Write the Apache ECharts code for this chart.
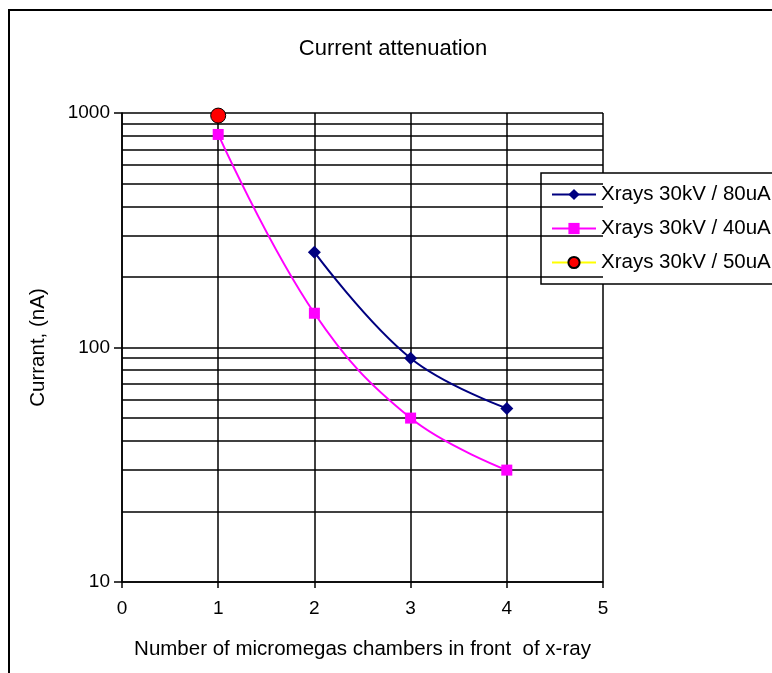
<!DOCTYPE html>
<html>
<head>
<meta charset="utf-8">
<script src="https://cdn.jsdelivr.net/npm/echarts@6/dist/echarts.min.js"></script>
<style>
html,body{margin:0;padding:0;background:#fff;}
#chart{width:772px;height:673px;}
</style>
</head>
<body>
<div id="chart"></div>
<script>
var chamberTicks = [0, 1, 2, 3, 4, 5];
var yTickLabels = [10, 100, 1000];
var minorGridValues = [20, 30, 40, 50, 60, 70, 80, 90, 200, 300, 400, 500, 600, 700, 800, 900];
var seriesNames = ['Xrays 30kV / 80uA', 'Xrays 30kV / 40uA', 'Xrays 30kV / 50uA'];
var x80 = [2, 3, 4];
var y80 = [255, 90, 55];
var x40 = [1, 2, 3, 4];
var y40 = [810, 140, 50, 30];
var x50 = [1];
var y50 = [975];

function pairs(xs, ys) { return xs.map(function (x, i) { return [x, ys[i]]; }); }

var FONT = 'Liberation Sans, Arial, sans-serif';
var chart = echarts.init(document.getElementById('chart'), null, {renderer: 'canvas'});
chart.setOption({
  animation: false,
  backgroundColor: '#ffffff',
  title: {
    text: 'Current attenuation',
    left: 388, top: 33, textAlign: 'center',
    textStyle: {fontFamily: FONT, fontSize: 22, fontWeight: 'normal', color: '#000'}
  },
  graphic: [{
    type: 'rect', shape: {x: 9, y: 10, width: 800, height: 700},
    style: {fill: 'none', stroke: '#000', lineWidth: 2}, silent: true, z: -1
  }],
  grid: {left: 122, top: 113, width: 481, height: 469, show: false},
  legend: {
    orient: 'vertical', left: 541, top: 173,
    data: seriesNames,
    itemWidth: 44, itemHeight: 14, itemGap: 13,
    padding: [11, 14, 11, 10],
    backgroundColor: '#fff', borderColor: '#000', borderWidth: 1.5,
    textStyle: {fontFamily: FONT, fontSize: 20.5, color: '#000'}
  },
  xAxis: {
    type: 'value', min: 0, max: 5, interval: 1,
    name: 'Number of micromegas chambers in front  of x-ray',
    nameLocation: 'middle', nameGap: 57,
    nameTextStyle: {fontFamily: FONT, fontSize: 20.5, color: '#000'},
    axisLine: {show: true, lineStyle: {color: '#000', width: 1.5}},
    axisTick: {show: true, length: 6, lineStyle: {color: '#000', width: 1.5}},
    axisLabel: {fontFamily: FONT, fontSize: 19, color: '#000', margin: 17,
      formatter: function (v) { return chamberTicks.indexOf(v) >= 0 ? String(v) : ''; }},
    splitLine: {show: true, lineStyle: {color: '#000', width: 1.5}}
  },
  yAxis: {
    type: 'log', logBase: 10, min: 10, max: 1000,
    name: 'Currant, (nA)', nameLocation: 'middle', nameGap: 73,
    nameTextStyle: {fontFamily: FONT, fontSize: 20.5, color: '#000'},
    axisLine: {show: true, lineStyle: {color: '#000', width: 1.5}},
    axisTick: {show: true, length: 8, lineStyle: {color: '#000', width: 1.5}},
    axisLabel: {fontFamily: FONT, fontSize: 19, color: '#000', margin: 12,
      formatter: function (v) { return yTickLabels.indexOf(Math.round(v)) >= 0 ? String(Math.round(v)) : ''; }},
    splitLine: {show: true, lineStyle: {color: '#000', width: 1.5}}
  },
  series: [
    {
      name: '__grid', type: 'line', data: [], silent: true,
      markLine: {
        silent: true, symbol: 'none', animation: false,
        label: {show: false},
        lineStyle: {color: '#000', type: 'solid', width: 1.5},
        data: minorGridValues.map(function (v) { return {yAxis: v}; })
      }
    },
    {
      name: seriesNames[0], type: 'line', smooth: 0.4,
      data: pairs(x80, y80),
      symbol: 'diamond', symbolSize: 13,
      lineStyle: {color: '#000080', width: 2},
      itemStyle: {color: '#000080'}, z: 5
    },
    {
      name: seriesNames[1], type: 'line', smooth: 0.4,
      data: pairs(x40, y40),
      symbol: 'rect', symbolSize: 11,
      lineStyle: {color: '#ff00ff', width: 2},
      itemStyle: {color: '#ff00ff'}, z: 5
    },
    {
      name: seriesNames[2], type: 'line',
      data: pairs(x50, y50),
      symbol: 'circle', symbolSize: 15,
      lineStyle: {color: '#ffff00', width: 2},
      itemStyle: {color: '#ff0000', borderColor: '#000', borderWidth: 1}, z: 6
    }
  ]
});
</script>
</body>
</html>
